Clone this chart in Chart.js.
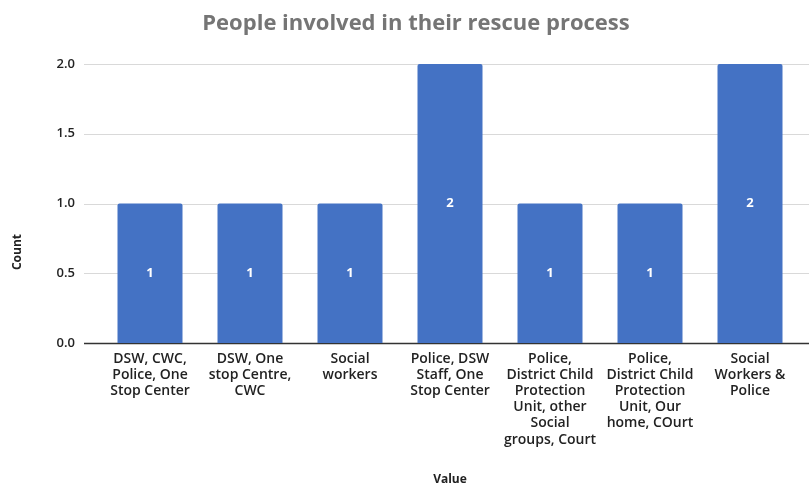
<!DOCTYPE html>
<html>
<head>
<meta charset="utf-8">
<script src="https://cdn.jsdelivr.net/npm/chart.js@4.4.0/dist/chart.umd.min.js"></script>
<style>
  html, body { margin: 0; padding: 0; background: #fff; }
  #wrap { width: 809px; height: 489px; position: relative; }
</style>
</head>
<body>
<div id="wrap"><canvas id="c"></canvas></div>
<script>
// ── Data ─────────────────────────────────────────────
const categories = [
  ['DSW, CWC,', 'Police, One', 'Stop Center'],
  ['DSW, One', 'stop Centre,', 'CWC'],
  ['Social', 'workers'],
  ['Police, DSW', 'Staff, One', 'Stop Center'],
  ['Police,', 'District Child', 'Protection', 'Unit, other', 'Social', 'groups, Court'],
  ['Police,', 'District Child', 'Protection', 'Unit, Our', 'home, COurt'],
  ['Social', 'Workers &', 'Police']
];
const counts = [1, 1, 1, 2, 1, 1, 2];
const yTicks = [0, 0.5, 1, 1.5, 2];
const chartTitle = 'People involved in their rescue process';

const FONT = "'Open Sans', sans-serif";

// gridlines extend past the plot area like the original, plus titles & value labels
const gridPlugin = {
  id: 'wideGrid',
  beforeDatasetsDraw(chart) {
    const { ctx, scales: { y } } = chart;
    ctx.save();
    yTicks.forEach(v => {
      const py = Math.round(y.getPixelForValue(v)) + 0.5;
      ctx.beginPath();
      ctx.strokeStyle = v === 0 ? '#333333' : '#d9d9d9';
      ctx.lineWidth = v === 0 ? 1.5 : 1;
      ctx.moveTo(84, py);
      ctx.lineTo(chart.width, py);
      ctx.stroke();
    });
    // chart title
    ctx.fillStyle = '#757575';
    ctx.font = "bold 22px " + FONT;
    ctx.textAlign = 'center';
    ctx.textBaseline = 'middle';
    ctx.fillText(chartTitle, 416, 24);
    // y axis title
    ctx.translate(18, 252);
    ctx.rotate(-Math.PI / 2);
    ctx.fillStyle = '#222222';
    ctx.font = "bold 12px " + FONT;
    ctx.fillText('Count', 0, 0);
    ctx.restore();
  },
  afterDatasetsDraw(chart) {
    const { ctx } = chart;
    const meta = chart.getDatasetMeta(0);
    ctx.save();
    ctx.fillStyle = '#ffffff';
    ctx.font = "bold 13px " + FONT;
    ctx.textAlign = 'center';
    ctx.textBaseline = 'middle';
    meta.data.forEach((bar, i) => {
      ctx.fillText(String(counts[i]), bar.x, (bar.y + bar.base) / 2);
    });
    ctx.restore();
  }
};

new Chart(document.getElementById('c'), {
  type: 'bar',
  data: {
    labels: categories,
    datasets: [{
      data: counts,
      backgroundColor: '#4472c4',
      borderRadius: { topLeft: 2, topRight: 2 },
      borderSkipped: 'bottom',
      categoryPercentage: 1,
      barPercentage: 0.65
    }]
  },
  options: {
    responsive: true,
    maintainAspectRatio: false,
    animation: false,
    layout: { padding: { left: 0, right: 9, top: 64, bottom: 0 } },
    plugins: {
      legend: { display: false },
      tooltip: { enabled: false },
      title: { display: false }
    },
    scales: {
      x: {
        grid: { display: false, drawTicks: false },
        border: { display: false },
        ticks: {
          color: '#222222',
          font: { family: FONT, size: 14, weight: '600', lineHeight: 1.15 },
          padding: 8,
          maxRotation: 0,
          autoSkip: false
        },
        title: {
          display: true,
          text: 'Value',
          color: '#222222',
          font: { family: FONT, size: 12, weight: 'bold' },
          padding: { top: 0, bottom: 2 }
        },
        afterFit(scale) { scale.height = 146; }
      },
      y: {
        min: 0,
        max: 2,
        afterBuildTicks(scale) { scale.ticks = yTicks.map(v => ({ value: v })); },
        grid: { display: false, drawTicks: false },
        border: { display: false },
        ticks: {
          color: '#222222',
          font: { family: FONT, size: 13, weight: '600' },
          padding: 25,
          callback: v => v.toFixed(1)
        },
        afterFit(scale) { scale.width = 100; }
      }
    }
  },
  plugins: [gridPlugin]
});
</script>
</body>
</html>
